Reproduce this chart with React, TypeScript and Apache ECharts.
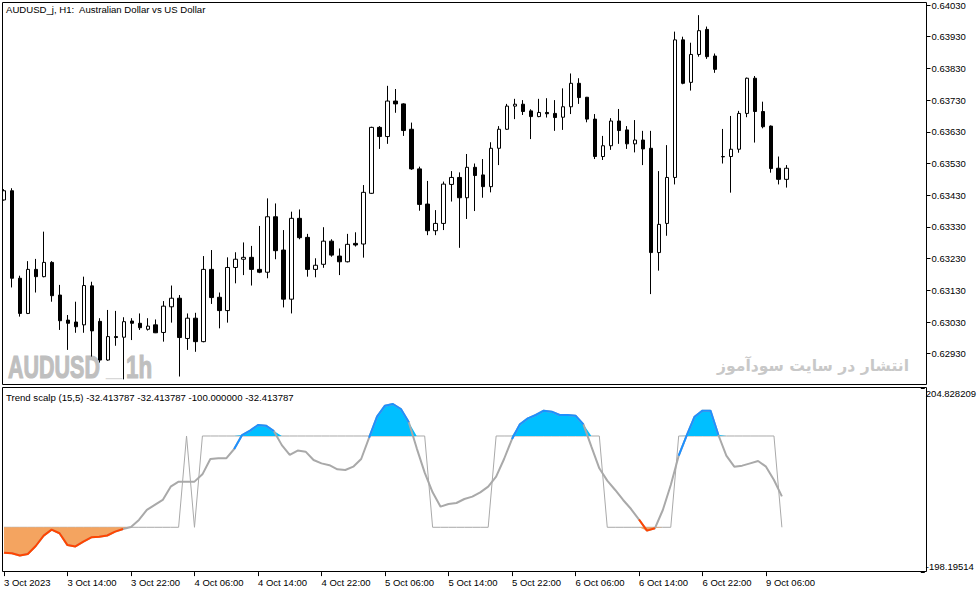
import React, { useEffect, useRef } from 'react';
import * as echarts from 'echarts';

// hourly bars, 3 Oct 2023 06:00 .. 9 Oct 2023 08:00 (weekend skipped)
const sessions: [string, number, number][] = [
  ['3 Oct', 6, 23],
  ['4 Oct', 0, 23],
  ['5 Oct', 0, 23],
  ['6 Oct', 0, 23],
  ['9 Oct', 0, 8],
];
const firstLabel = '3 Oct 2023';
const emptySlots = 17;

const open = [
  0.63415, 0.63444, 0.63168, 0.63057, 0.63196, 0.63173, 0.63218, 0.63115, 0.63036, 0.63030,
  0.63021, 0.63144, 0.63032, 0.62910, 0.62984, 0.62982, 0.63033, 0.63026, 0.63007, 0.63021,
  0.62997, 0.63078, 0.63105, 0.62978, 0.63042, 0.62968, 0.63196, 0.63108, 0.63066, 0.63202,
  0.63228, 0.63234, 0.63196, 0.63187, 0.63362, 0.63257, 0.63102, 0.63357, 0.63297, 0.63196,
  0.63212, 0.63285, 0.63238, 0.63220, 0.63278, 0.63276, 0.63436, 0.63644, 0.63615, 0.63727,
  0.63718, 0.63638, 0.63513, 0.63402, 0.63318, 0.63341, 0.63464, 0.63486, 0.63422, 0.63518,
  0.63494, 0.63457, 0.63578, 0.63638, 0.63711, 0.63717, 0.63696, 0.63678, 0.63691, 0.63688,
  0.63676, 0.63709, 0.63783, 0.63739, 0.63670, 0.63552, 0.63586, 0.63664, 0.63636, 0.63592,
  0.63604, 0.63578, 0.63249, 0.63341, 0.63486, 0.63920, 0.63786, 0.63874, 0.63953, 0.63869,
  0.63552, 0.63552, 0.63575, 0.63688, 0.63799, 0.63694, 0.63648, 0.63515, 0.63480,
];
const high = [
  0.63449, 0.63452, 0.63176, 0.63222, 0.63229, 0.63315, 0.63222, 0.63147, 0.63052, 0.63094,
  0.63173, 0.63157, 0.63042, 0.63068, 0.63065, 0.63045, 0.63042, 0.63057, 0.63042, 0.63038,
  0.63096, 0.63145, 0.63115, 0.63057, 0.63059, 0.63238, 0.63257, 0.63123, 0.63234, 0.63250,
  0.63281, 0.63270, 0.63333, 0.63420, 0.63404, 0.63320, 0.63378, 0.63385, 0.63308, 0.63231,
  0.63329, 0.63291, 0.63262, 0.63308, 0.63313, 0.63462, 0.63646, 0.63648, 0.63775, 0.63765,
  0.63720, 0.63659, 0.63520, 0.63475, 0.63383, 0.63473, 0.63506, 0.63502, 0.63560, 0.63530,
  0.63544, 0.63597, 0.63648, 0.63718, 0.63734, 0.63730, 0.63701, 0.63734, 0.63736, 0.63730,
  0.63767, 0.63814, 0.63799, 0.63740, 0.63686, 0.63617, 0.63673, 0.63702, 0.63648, 0.63667,
  0.63633, 0.63633, 0.63506, 0.63588, 0.63946, 0.63930, 0.63911, 0.63998, 0.63962, 0.63877,
  0.63639, 0.63680, 0.63696, 0.63801, 0.63806, 0.63725, 0.63650, 0.63552, 0.63525,
];
const low = [
  0.63413, 0.63139, 0.63047, 0.63055, 0.63123, 0.63171, 0.63094, 0.63005, 0.62942, 0.62996,
  0.62996, 0.62921, 0.62902, 0.62908, 0.62955, 0.62849, 0.62973, 0.63005, 0.63003, 0.62995,
  0.62968, 0.63028, 0.62858, 0.62942, 0.62936, 0.62966, 0.63087, 0.63010, 0.63028, 0.63152,
  0.63178, 0.63145, 0.63184, 0.63168, 0.63228, 0.63076, 0.63057, 0.63291, 0.63173, 0.63171,
  0.63201, 0.63236, 0.63178, 0.63218, 0.63268, 0.63233, 0.63434, 0.63576, 0.63592, 0.63690,
  0.63617, 0.63510, 0.63381, 0.63304, 0.63304, 0.63320, 0.63410, 0.63264, 0.63355, 0.63380,
  0.63422, 0.63439, 0.63525, 0.63636, 0.63670, 0.63683, 0.63607, 0.63676, 0.63675, 0.63633,
  0.63636, 0.63686, 0.63718, 0.63660, 0.63544, 0.63541, 0.63573, 0.63592, 0.63576, 0.63565,
  0.63525, 0.63118, 0.63192, 0.63302, 0.63464, 0.63780, 0.63760, 0.63867, 0.63860, 0.63816,
  0.63530, 0.63438, 0.63564, 0.63676, 0.63596, 0.63641, 0.63501, 0.63464, 0.63454,
];
const close = [
  0.63444, 0.63168, 0.63057, 0.63196, 0.63173, 0.63218, 0.63113, 0.63034, 0.63026, 0.63015,
  0.63145, 0.63002, 0.62910, 0.62984, 0.62981, 0.63031, 0.63026, 0.63012, 0.63017, 0.62996,
  0.63080, 0.63105, 0.62981, 0.63042, 0.62968, 0.63196, 0.63107, 0.63066, 0.63202, 0.63228,
  0.63234, 0.63196, 0.63187, 0.63362, 0.63255, 0.63102, 0.63357, 0.63296, 0.63196, 0.63209,
  0.63285, 0.63241, 0.63220, 0.63275, 0.63273, 0.63439, 0.63644, 0.63615, 0.63727, 0.63718,
  0.63634, 0.63513, 0.63401, 0.63318, 0.63341, 0.63465, 0.63486, 0.63422, 0.63518, 0.63492,
  0.63457, 0.63578, 0.63638, 0.63711, 0.63717, 0.63694, 0.63678, 0.63691, 0.63687, 0.63675,
  0.63709, 0.63783, 0.63738, 0.63670, 0.63552, 0.63586, 0.63664, 0.63634, 0.63592, 0.63604,
  0.63576, 0.63249, 0.63338, 0.63486, 0.63920, 0.63783, 0.63874, 0.63949, 0.63867, 0.63827,
  0.63551, 0.63575, 0.63688, 0.63799, 0.63694, 0.63646, 0.63514, 0.63480, 0.63515,
];

// Trend scalp (15,5)
const scalp = [
  -155.6, -157, -162, -158.5, -141, -118.3, -105.2, -113, -139, -142,
  -131.5, -122, -120.5, -118, -109.6, -103.7, -99.3, -84, -62, -51,
  -40, -11, 0, 0, 0, 16, 49.6, 51, 51, 71.5,
  102, 111.7, 124, 122.6, 111, 80, 58.4, 68, 65.7, 47.4,
  40, 36, 27, 25.5, 32.8, 49.6, 96.3, 142.3, 166.4, 170.1,
  159.1, 130, 73, 19.7, -23.4, -54.8, -49, -46.8, -38, -32.9,
  -23.4, -11, 10.9, 49.6, 93.4, 125.6, 138.7, 146, 155.5, 153.3,
  146, 146, 144.5, 125.6, 76.6, 29.2, 2.2, -18.3, -40.2, -60,
  -83, -107.4, -102.3, -62.1, -7.3, 56.9, 100.7, 142.3, 155.5, 155.5,
  102.2, 56.9, 32.8, 35, 40.1, 45.2, 32.8, 3.6, -32.413787,
];
const trendStep = [
  -100, -100, -100, -100, -100, -100, -100, -100, -100, -100,
  -100, -100, -100, -100, -100, -100, -100, -100, -100, -100,
  -100, -100, -100, 100, -100, 100, 100, 100, 100, 100,
  100, 100, 100, 100, 100, 100, 100, 100, 100, 100,
  100, 100, 100, 100, 100, 100, 100, 100, 100, 100,
  100, 100, 100, 100, -100, -100, -100, -100, -100, -100,
  -100, -100, 100, 100, 100, 100, 100, 100, 100, 100,
  100, 100, 100, 100, 100, 100, -100, -100, -100, -100,
  -100, -100, -100, -100, -100, 100, 100, 100, 100, 100,
  100, 100, 100, 100, 100, 100, 100, 100, -100,
];
const upperLevel = 100;
const lowerLevel = -100;

const priceTicks = [
  0.6293, 0.6303, 0.6313, 0.6323, 0.6333, 0.6343, 0.6353, 0.6363, 0.6373, 0.6383, 0.6393, 0.6403,
];
const scalpMax = 204.828209;
const scalpMin = -198.19514;
const scalpTickLabels = ['204.828209', '-198.19514'];

const FONT = '"Liberation Sans", Arial, sans-serif';

const App: React.FC = () => {
  const chartRef = useRef<HTMLDivElement>(null);

  useEffect(() => {
    if (!chartRef.current) return;
    const chart = echarts.init(chartRef.current, undefined, { renderer: 'svg' });

    const barTimes: string[] = [];
    sessions.forEach(([day, from, to]) => {
      for (let h = from; h <= to; h++) barTimes.push(`${day} ${String(h).padStart(2, '0')}:00`);
    });
    const categories = barTimes.concat(Array(emptySlots).fill(''));
    const candles = open.map((o, i) => [o, close[i], low[i], high[i]]);

    // colour segment i-1 -> i when bar i is beyond the level
    const upLine = scalp.map((v, i) => (v > upperLevel || scalp[i + 1] > upperLevel ? v : null));
    const downLine = scalp.map((v, i) => (v < lowerLevel || scalp[i + 1] < lowerLevel ? v : null));
    const showTick = (i: number, v: string) => v !== '' && i % 8 === 0;

    const option = {
      animation: false,
      backgroundColor: '#fff',
      grid: [
        { left: -1.5, top: 1.83, width: 928, height: 383.57 },
        { left: -1.5, top: 388.15, width: 928, height: 183.95 },
      ],
      xAxis: [
        { type: 'category', gridIndex: 0, data: categories, show: false },
        {
          type: 'category',
          gridIndex: 1,
          data: categories,
          position: 'bottom',
          axisLine: { show: false, onZero: false },
          axisTick: {
            show: true,
            length: 4,
            alignWithLabel: true,
            interval: showTick,
            lineStyle: { color: '#000' },
          },
          axisLabel: {
            interval: showTick,
            align: 'left',
            margin: 5,
            color: '#000',
            fontSize: 9.5,
            fontFamily: FONT,
            formatter: (v: string, i: number) => (i === 0 ? firstLabel : v),
          },
          splitLine: { show: false },
        },
      ],
      yAxis: [
        {
          type: 'value',
          gridIndex: 0,
          position: 'right',
          min: 0.6283,
          max: 0.6404,
          interval: 0.001,
          axisLine: { show: false },
          splitLine: { show: false },
          axisTick: { show: true, length: 4, customValues: priceTicks, lineStyle: { color: '#000' } },
          axisLabel: {
            customValues: priceTicks,
            margin: 5,
            color: '#000',
            fontSize: 9.5,
            fontFamily: FONT,
            formatter: (v: number) => (v < 0.629 || v > 0.6404 ? '' : v.toFixed(5)),
          },
        },
        {
          type: 'value',
          gridIndex: 1,
          position: 'right',
          min: scalpMin,
          max: scalpMax,
          interval: scalpMax - scalpMin,
          axisLine: { show: false },
          splitLine: { show: false },
          axisTick: { show: true, length: 4, customValues: [scalpMin, scalpMax], lineStyle: { color: '#000' } },
          axisLabel: {
            customValues: [scalpMin, scalpMax],
            margin: 5,
            color: '#000',
            fontSize: 9.5,
            fontFamily: FONT,
            formatter: (v: number) =>
              Math.abs(v - scalpMax) < 1e-6
                ? `{t|${scalpTickLabels[0]}}`
                : Math.abs(v - scalpMin) < 1e-6
                ? `{b|${scalpTickLabels[1]}}`
                : '',
            rich: {
              t: { padding: [11, 0, 0, 0], fontSize: 9.5, fontFamily: FONT, color: '#000' },
              b: { padding: [0, 0, 11, 0], fontSize: 9.5, fontFamily: FONT, color: '#000' },
            },
          },
        },
      ],
      series: [
        {
          type: 'candlestick',
          xAxisIndex: 0,
          yAxisIndex: 0,
          data: candles,
          barWidth: 4,
          silent: true,
          itemStyle: {
            color: '#fff',
            color0: '#000',
            borderColor: '#000',
            borderColor0: '#000',
            borderWidth: 1,
          },
        },
        {
          type: 'line',
          xAxisIndex: 1,
          yAxisIndex: 1,
          data: trendStep,
          symbol: 'none',
          silent: true,
          z: 2,
          lineStyle: { color: '#A9A9A9', width: 1 },
        },
        {
          type: 'line',
          xAxisIndex: 1,
          yAxisIndex: 1,
          data: scalp.map(v => Math.max(v, upperLevel)),
          symbol: 'none',
          silent: true,
          z: 3,
          lineStyle: { width: 0, opacity: 0 },
          areaStyle: { origin: upperLevel, color: '#00BFFF', opacity: 1 },
        },
        {
          type: 'line',
          xAxisIndex: 1,
          yAxisIndex: 1,
          data: scalp.map(v => Math.min(v, lowerLevel)),
          symbol: 'none',
          silent: true,
          z: 3,
          lineStyle: { width: 0, opacity: 0 },
          areaStyle: { origin: lowerLevel, color: '#F4A460', opacity: 1 },
        },
        {
          type: 'line',
          xAxisIndex: 1,
          yAxisIndex: 1,
          data: scalp,
          symbol: 'none',
          silent: true,
          z: 4,
          lineStyle: { color: '#A9A9A9', width: 2 },
        },
        {
          type: 'line',
          xAxisIndex: 1,
          yAxisIndex: 1,
          data: upLine,
          symbol: 'none',
          silent: true,
          z: 5,
          connectNulls: false,
          lineStyle: { color: '#1E90FF', width: 2 },
        },
        {
          type: 'line',
          xAxisIndex: 1,
          yAxisIndex: 1,
          data: downLine,
          symbol: 'none',
          silent: true,
          z: 5,
          connectNulls: false,
          lineStyle: { color: '#FF4500', width: 2 },
        },
      ],
      graphic: [
        {
          type: 'text',
          x: 8,
          y: 366.5,
          z: 0,
          scaleX: 0.672,
          silent: true,
          style: {
            text: 'AUDUSD',
            font: `bold 32px ${FONT}`,
            fill: '#bfbfbf',
            stroke: '#bfbfbf',
            lineWidth: 1.2,
            verticalAlign: 'middle',
          },
        },
        {
          type: 'text',
          x: 106,
          y: 363.5,
          z: 0,
          scaleX: 0.9,
          silent: true,
          style: { text: '_', font: `bold 32px ${FONT}`, fill: '#d8d8d8', verticalAlign: 'middle' },
        },
        {
          type: 'text',
          x: 126,
          y: 366.5,
          z: 0,
          scaleX: 0.7,
          silent: true,
          style: {
            text: '1h',
            font: `bold 32px ${FONT}`,
            fill: '#bfbfbf',
            stroke: '#bfbfbf',
            lineWidth: 1.2,
            verticalAlign: 'middle',
          },
        },
        {
          type: 'text',
          x: 909,
          y: 366,
          z: 0,
          silent: true,
          style: {
            text: 'انتشار در سایت سودآموز',
            font: 'bold 15.6px "DejaVu Sans", sans-serif',
            fill: '#c8c8c8',
            align: 'right',
            verticalAlign: 'middle',
          },
        },
        {
          type: 'rect',
          z: 90,
          silent: true,
          shape: { x: 0, y: 0, width: 2, height: 593 },
          style: { fill: '#fff' },
        },
        {
          type: 'rect',
          z: 100,
          silent: true,
          shape: { x: 2.5, y: 2.5, width: 924, height: 382 },
          style: { fill: 'none', stroke: '#000', lineWidth: 1 },
        },
        {
          type: 'rect',
          z: 100,
          silent: true,
          shape: { x: 2.5, y: 387.5, width: 924, height: 184 },
          style: { fill: 'none', stroke: '#000', lineWidth: 1 },
        },
        {
          type: 'text',
          x: 6,
          y: 9.5,
          z: 100,
          silent: true,
          style: {
            text: 'AUDUSD_j, H1:  Australian Dollar vs US Dollar',
            font: `9.6px ${FONT}`,
            fill: '#000',
            verticalAlign: 'middle',
          },
        },
        {
          type: 'text',
          x: 6,
          y: 397,
          z: 100,
          silent: true,
          style: {
            text: 'Trend scalp (15,5) -32.413787 -32.413787 -100.000000 -32.413787',
            font: `9.6px ${FONT}`,
            fill: '#000',
            verticalAlign: 'middle',
          },
        },
      ],
    };

    chart.setOption(option as any);

    return () => {
      chart.dispose();
    };
  }, []);

  return (
    <div
      ref={chartRef}
      style={{ position: 'fixed', left: 0, top: 0, width: 979, height: 593, background: '#fff' }}
    />
  );
};

export default App;
